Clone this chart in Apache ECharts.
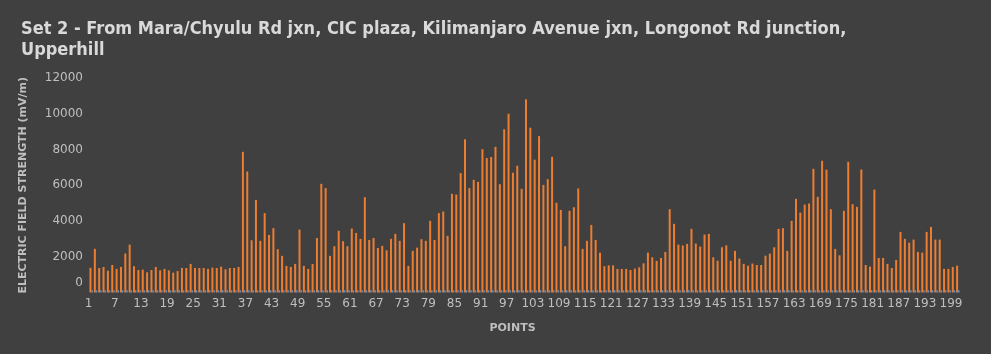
<!DOCTYPE html>
<html>
<head>
<meta charset="utf-8">
<script src="https://cdn.jsdelivr.net/npm/echarts@6/dist/echarts.min.js"></script>
<style>
  html, body { margin: 0; padding: 0; background: #404040; }
  #chart { width: 991px; height: 354px; }
</style>
</head>
<body>
<div id="chart"></div>
<script>
// points 1..200
const points = [];
for (let i = 1; i <= 200; i++) points.push(String(i));

// electric field strength (mV/m)
const fieldStrength = [
  1380, 2440, 1370, 1430, 1220, 1540, 1320, 1430, 2180, 2680,
  1470, 1260, 1280, 1130, 1260, 1430, 1240, 1320, 1240, 1110,
  1200, 1370, 1370, 1600, 1370, 1370, 1370, 1320, 1390, 1370,
  1450, 1300, 1370, 1370, 1430, 7870, 6770, 2920, 5180, 2890,
  4440, 3220, 3600, 2420, 2050, 1490, 1430, 1600, 3520, 1490,
  1320, 1600, 3050, 6080, 5840, 2050, 2590, 3450, 2870, 2590,
  3580, 3330, 3000, 5330, 2940, 3050, 2490, 2610, 2360, 3000,
  3280, 2890, 3880, 1490, 2330, 2510, 2980, 2890, 4010, 2940,
  4440, 4530, 3170, 5520, 5480, 6680, 8570, 5840, 6300, 6190,
  8020, 7520, 7580, 8150, 6060, 9130, 10000, 6700, 7090, 5800,
  10810, 9220, 7430, 8750, 6020, 6340, 7590, 5020, 4620, 2590,
  4570, 4770, 5820, 2440, 2890, 3780, 2940, 2230, 1470, 1520,
  1520, 1320, 1320, 1320, 1260, 1340, 1410, 1630, 2230, 1970,
  1770, 1930, 2270, 4660, 3840, 2680, 2630, 2720, 3560, 2740,
  2570, 3240, 3280, 1970, 1780, 2530, 2640, 1780, 2330, 1900,
  1600, 1500, 1620, 1540, 1540, 2060, 2180, 2530, 3560, 3600,
  2330, 4010, 5240, 4470, 4920, 4980, 6920, 5350, 7370, 6870,
  4660, 2440, 2080, 4570, 7310, 4940, 4790, 6880, 1540, 1450,
  5760, 1930, 1930, 1600, 1370, 1820, 3390, 3000, 2790, 2960,
  2270, 2230, 3390, 3670, 2960, 2960, 1320, 1320, 1430, 1500
];

// second series: barely visible blue stubs along the baseline
const referenceLevel = [
  120, 120, 120, 120, 120, 120, 120, 120, 120, 120,
  120, 120, 120, 120, 120, 120, 120, 120, 120, 120,
  120, 120, 120, 120, 120, 120, 120, 120, 120, 120,
  120, 120, 120, 120, 120, 120, 120, 120, 120, 120,
  120, 120, 120, 120, 120, 120, 120, 120, 120, 120,
  120, 120, 120, 120, 120, 120, 120, 120, 120, 120,
  120, 120, 120, 120, 120, 120, 120, 120, 120, 120,
  120, 120, 120, 120, 120, 120, 120, 120, 120, 120,
  120, 120, 120, 120, 120, 120, 120, 120, 120, 120,
  120, 120, 120, 120, 120, 120, 120, 120, 120, 120,
  120, 120, 120, 120, 120, 120, 120, 120, 120, 120,
  120, 120, 120, 120, 120, 120, 120, 120, 120, 120,
  120, 120, 120, 120, 120, 120, 120, 120, 120, 120,
  120, 120, 120, 120, 120, 120, 120, 120, 120, 120,
  120, 120, 120, 120, 120, 120, 120, 120, 120, 120,
  120, 120, 120, 120, 120, 120, 120, 120, 120, 120,
  120, 120, 120, 120, 120, 120, 120, 120, 120, 120,
  120, 120, 120, 120, 120, 120, 120, 120, 120, 120,
  120, 120, 120, 120, 120, 120, 120, 120, 120, 120,
  120, 120, 120, 120, 120, 120, 120, 120, 120, 120
];

const chart = echarts.init(document.getElementById("chart"), null, { renderer: "canvas" });

chart.setOption({
  backgroundColor: "#404040",
  animation: false,
  title: {
    text: "Set 2 - From Mara/Chyulu Rd jxn, CIC plaza, Kilimanjaro Avenue jxn, Longonot Rd junction,\nUpperhill",
    left: 16,
    top: 14,
    textStyle: {
      color: "#d9d9d9",
      fontFamily: "DejaVu Sans Condensed",
      fontWeight: "bold",
      fontSize: 18,
      lineHeight: 21,
    },
  },
  grid: {
    left: 89,
    right: 31,
    top: 78,
    bottom: 61.5,
  },
  xAxis: {
    type: "category",
    data: points,
    name: "POINTS",
    nameLocation: "middle",
    nameGap: 30,
    nameTextStyle: {
      color: "#bfbfbf",
      fontFamily: "DejaVu Sans",
      fontWeight: "bold",
      fontSize: 11,
      padding: [0, 24, 0, 0],
    },
    axisLine: { show: false },
    axisTick: { show: false },
    axisLabel: {
      interval: 5,
      color: "#bfbfbf",
      fontFamily: "DejaVu Sans",
      fontSize: 12,
      margin: 5,
      padding: [0, 5, 0, 0],
    },
  },
  yAxis: {
    type: "value",
    min: 0,
    max: 12000,
    interval: 2000,
    name: "ELECTRIC FIELD STRENGTH (mV/m)",
    nameLocation: "middle",
    nameGap: 60,
    nameTextStyle: {
      color: "#bfbfbf",
      fontFamily: "DejaVu Sans",
      fontWeight: "bold",
      fontSize: 11,
      padding: [0, 0, 0, 0],
    },
    axisLine: { show: false },
    axisTick: { show: false },
    splitLine: { show: false },
    axisLabel: {
      color: "#bfbfbf",
      fontFamily: "DejaVu Sans",
      fontSize: 12,
      margin: 6,
      formatter: (v) => (v === 0 ? "{z|0}" : String(v)),
      rich: {
        z: {
          color: "#bfbfbf",
          fontFamily: "DejaVu Sans",
          fontSize: 12,
          padding: [0, 0, 20, 0],
        },
      },
    },
  },
  series: [
    {
      name: "Field strength",
      type: "bar",
      data: fieldStrength,
      barWidth: 2,
      barGap: "0%",
      itemStyle: { color: "#ed7d31" },
    },
    {
      name: "Reference",
      type: "bar",
      data: referenceLevel,
      barWidth: 1.4,
      itemStyle: { color: "#5b9bd5" },
    },
  ],
});
</script>
</body>
</html>
